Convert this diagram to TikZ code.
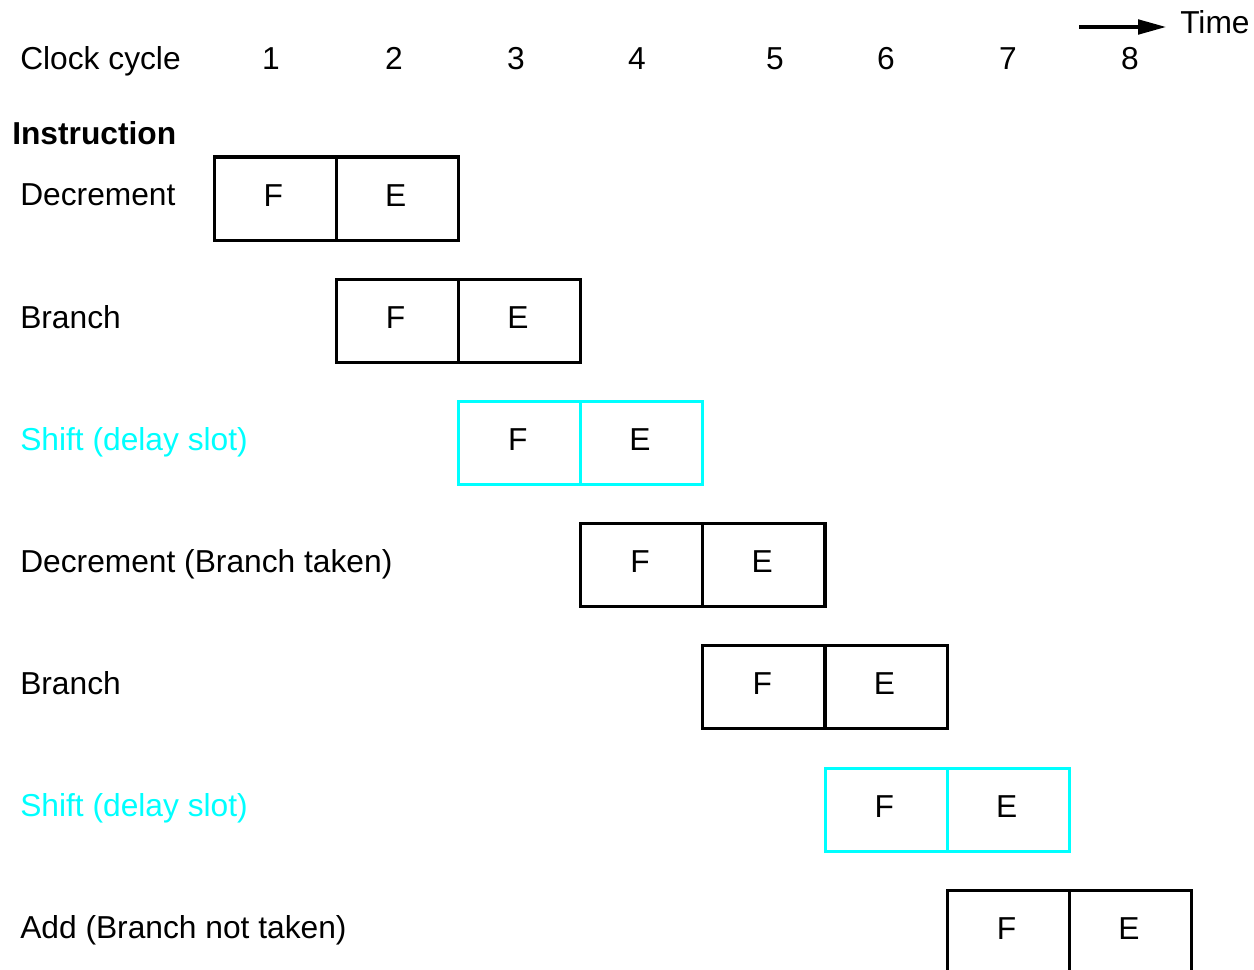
\documentclass[tikz,border=0pt]{standalone}
\usepackage{fontspec}
\setmainfont{Liberation Sans}
\usetikzlibrary{arrows.meta}
\definecolor{slotcyan}{RGB}{0,255,255}
\begin{document}
\begin{tikzpicture}[x=0.75pt,y=-0.75pt,
  every node/.style={font=\fontsize{23.8}{28}\selectfont},
  cell/.style={draw=black,line width=2.3pt,minimum width=91.6pt,minimum height=62.3pt,inner sep=0pt,anchor=north west},
  slotcell/.style={cell,draw=slotcyan},
  lbl/.style={anchor=base west,inner sep=0pt},
  num/.style={anchor=base,inner sep=0pt}]
\useasboundingbox (0,0) rectangle (1254,970);
% header
\node[lbl] (clk) at (20,69.5) {Clock cycle};
\foreach \n/\x in {1/271,2/394,3/516,4/637,5/775,6/886,7/1008,8/1130}
  \node[num] (c\n) at (\x,69.5) {\n};
\node[lbl,font=\fontsize{23.8}{28}\selectfont\bfseries] (instr) at (12,144.5) {Instruction};
\coordinate (ta) at (1079,27);
\coordinate (tb) at (1166,27);
\draw[line width=2.3pt,-{Triangle[length=21pt,width=11pt]}] (ta) -- (tb);
\node[lbl] (time) at (1180,33.5) {Time};
% rows
\node[lbl] (l1) at (20,205.5) {Decrement};
\node[lbl] (l2) at (20,328.5) {Branch};
\node[lbl,text=slotcyan] (l3) at (20,450.5) {Shift (delay slot)};
\node[lbl] (l4) at (20,572.5) {Decrement (Branch taken)};
\node[lbl] (l5) at (20,694.5) {Branch};
\node[lbl,text=slotcyan] (l6) at (20,816.5) {Shift (delay slot)};
\node[lbl] (l7) at (20,938.5) {Add (Branch not taken)};
\foreach \i/\x/\y/\s in {1/212.5/155.5/cell,2/334.7/277.7/cell,3/456.9/399.9/slotcell,4/579.1/522.1/cell,5/701.3/644.3/cell,6/823.5/766.5/slotcell,7/945.7/888.7/cell}{
  \node[\s] (f\i) at (\x,\y) {\hspace*{-2.5pt}\raisebox{5pt}{F}};
  \node[\s] (e\i) at (\x+122.2,\y) {\hspace*{-2.5pt}\raisebox{5pt}{E}};
}
\end{tikzpicture}
\end{document}
